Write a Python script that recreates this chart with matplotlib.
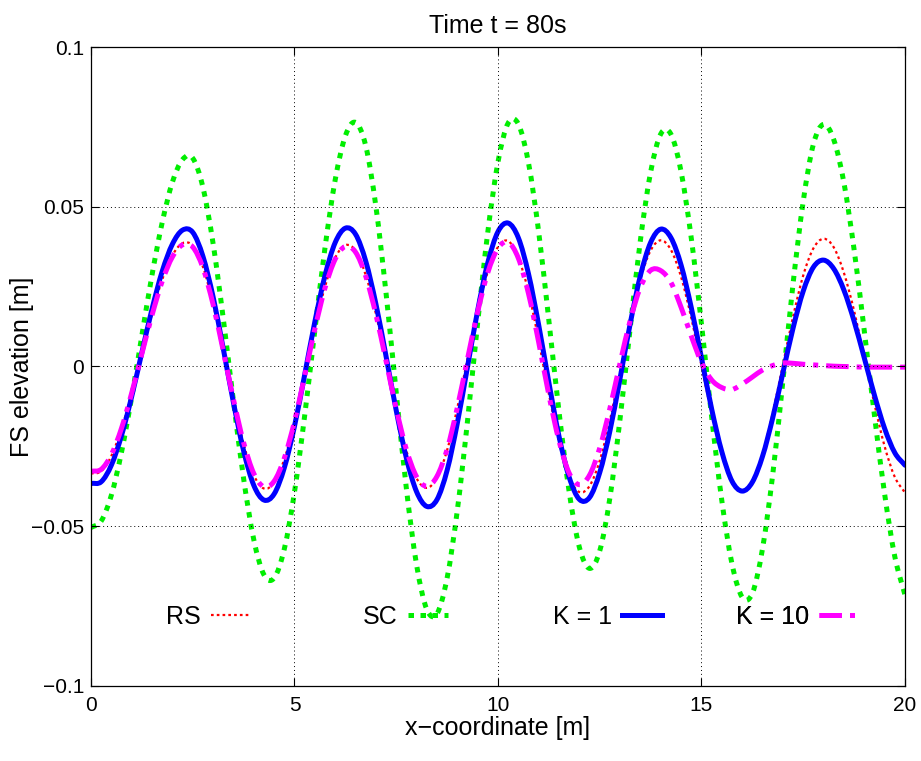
import numpy as np
import matplotlib
matplotlib.use("Agg")
import matplotlib.pyplot as plt
from matplotlib.lines import Line2D
from matplotlib.path import Path
from matplotlib.patches import PathPatch

# free-surface elevation at t = 80 s, read every 0.25 m along the channel
x_coord = np.linspace(0, 20, 81)

rs = [-0.0335, -0.0328, -0.0280, -0.0195, -0.0083, 0.0042, 0.0165, 0.0272, 0.0348, 0.0386,
      0.0378, 0.0312, 0.0196, 0.0049, -0.0105, -0.0242, -0.0340, -0.0382, -0.0363, -0.0290,
      -0.0173, -0.0028, 0.0119, 0.0250, 0.0340, 0.0380, 0.0362, 0.0286, 0.0165, 0.0017,
      -0.0134, -0.0264, -0.0350, -0.0380, -0.0348, -0.0262, -0.0130, 0.0024, 0.0173, 0.0297,
      0.0374, 0.0393, 0.0341, 0.0233, 0.0081, -0.0086, -0.0236, -0.0346, -0.0393, -0.0374,
      -0.0295, -0.0169, -0.0016, 0.0140, 0.0274, 0.0363, 0.0395, 0.0365, 0.0280, 0.0152,
      0.0003, -0.0147, -0.0275, -0.0360, -0.0390, -0.0360, -0.0275, -0.0146, 0.0005, 0.0156,
      0.0285, 0.0370, 0.0400, 0.0373, 0.0293, 0.0174, 0.0030, -0.0118, -0.0250, -0.0346,
      -0.0395]

sc = [-0.0504, -0.0484, -0.0403, -0.0268, -0.0096, 0.0097, 0.0287, 0.0451, 0.0577, 0.0648,
      0.0652, 0.0561, 0.0385, 0.0150, -0.0108, -0.0351, -0.0542, -0.0652, -0.0662, -0.0571,
      -0.0393, -0.0154, 0.0113, 0.0372, 0.0584, 0.0722, 0.0764, 0.0691, 0.0501, 0.0229,
      -0.0082, -0.0383, -0.0621, -0.0760, -0.0774, -0.0662, -0.0451, -0.0172, 0.0136, 0.0421,
      0.0640, 0.0762, 0.0759, 0.0637, 0.0421, 0.0144, -0.0142, -0.0393, -0.0566, -0.0632,
      -0.0577, -0.0411, -0.0163, 0.0122, 0.0396, 0.0608, 0.0728, 0.0727, 0.0609, 0.0401,
      0.0133, -0.0158, -0.0420, -0.0618, -0.0722, -0.0710, -0.0570, -0.0339, -0.0046, 0.0259,
      0.0517, 0.0696, 0.0758, 0.0710, 0.0575, 0.0366, 0.0112, -0.0153, -0.0399, -0.0595,
      -0.0715]

k1 = [-0.0366, -0.0361, -0.0309, -0.0216, -0.0094, 0.0044, 0.0180, 0.0298, 0.0383, 0.0427,
      0.0420, 0.0345, 0.0218, 0.0056, -0.0113, -0.0264, -0.0372, -0.0418, -0.0399, -0.0317,
      -0.0187, -0.0026, 0.0140, 0.0285, 0.0388, 0.0433, 0.0414, 0.0330, 0.0196, 0.0032,
      -0.0138, -0.0287, -0.0392, -0.0438, -0.0417, -0.0325, -0.0178, -0.0002, 0.0175, 0.0325,
      0.0422, 0.0449, 0.0403, 0.0290, 0.0130, -0.0050, -0.0219, -0.0347, -0.0416, -0.0410,
      -0.0332, -0.0202, -0.0037, 0.0135, 0.0285, 0.0388, 0.0430, 0.0403, 0.0317, 0.0184,
      0.0027, -0.0133, -0.0267, -0.0359, -0.0390, -0.0362, -0.0281, -0.0161, -0.0020, 0.0120,
      0.0236, 0.0311, 0.0333, 0.0306, 0.0239, 0.0142, 0.0027, -0.0090, -0.0194, -0.0270,
      -0.0309]

k10 = [-0.0328, -0.0322, -0.0276, -0.0193, -0.0083, 0.0040, 0.0161, 0.0267, 0.0343, 0.0381,
       0.0374, 0.0309, 0.0194, 0.0049, -0.0103, -0.0238, -0.0335, -0.0377, -0.0359, -0.0287,
       -0.0172, -0.0029, 0.0117, 0.0246, 0.0336, 0.0376, 0.0358, 0.0283, 0.0163, 0.0017,
       -0.0132, -0.0260, -0.0345, -0.0375, -0.0344, -0.0259, -0.0129, 0.0023, 0.0171, 0.0294,
       0.0370, 0.0389, 0.0339, 0.0228, 0.0076, -0.0089, -0.0233, -0.0334, -0.0370, -0.0340,
       -0.0255, -0.0131, 0.0011, 0.0145, 0.0248, 0.0301, 0.0300, 0.0263, 0.0185, 0.0095,
       0.0012, -0.0042, -0.0066, -0.0072, -0.0055, -0.0033, -0.0011, 0.0003, 0.0011, 0.0010,
       0.0007, 0.0005, 0.0003, 0.0001, 0.0000, -0.0001, -0.0002, -0.0002, -0.0002, -0.0002,
       -0.0002]

series_labels = ["RS", "SC", "K = 1", "K = 10"]
x_ticks = [0, 5, 10, 15, 20]
y_ticks = [-0.1, -0.05, 0, 0.05, 0.1]
y_tick_labels = ["\u22120.1", "\u22120.05", "0", "0.05", "0.1"]

plt.rcParams["font.family"] = ["Liberation Sans", "DejaVu Sans"]


def smooth_curve(ax, xs, ys, **kw):
    # draws the read points joined by a smooth bezier (catmull-rom style)
    pts = np.column_stack([np.asarray(xs, float), np.asarray(ys, float)])
    tang = np.empty_like(pts)
    tang[1:-1] = (pts[2:] - pts[:-2]) / 2
    tang[0] = pts[1] - pts[0]
    tang[-1] = pts[-1] - pts[-2]
    verts = [pts[0]]
    codes = [Path.MOVETO]
    for i in range(len(pts) - 1):
        verts += [pts[i] + tang[i] / 3, pts[i + 1] - tang[i + 1] / 3, pts[i + 1]]
        codes += [Path.CURVE4] * 3
    patch = PathPatch(Path(verts, codes), fill=False, joinstyle="round", **kw)
    ax.add_patch(patch)
    return patch


fig = plt.figure(figsize=(9.21, 7.61), dpi=100)
ax = fig.add_axes([0.0988, 0.0986, 0.8838, 0.8396])

styles = [
    dict(color="#ff0000", lw=1.6, ls=(0, (1.2, 1.4)), cap="butt"),
    dict(color="#00ee00", lw=3.6, ls=(0, (1.1, 1.3)), cap="butt"),
    dict(color="#0000ff", lw=3.6, ls="-", cap="round"),
    dict(color="#ff00ff", lw=3.6, ls=(0, (4.5, 1.6, 1.0, 1.6)), cap="butt"),
]

handles = []
for ys, st in zip([rs, sc, k1, k10], styles):
    smooth_curve(ax, x_coord, ys, edgecolor=st["color"], linewidth=st["lw"],
                 linestyle=st["ls"], capstyle=st["cap"])
    handles.append(Line2D([], [], color=st["color"], lw=st["lw"], linestyle=st["ls"],
                          dash_capstyle=st["cap"]))

ax.set_xlim(0, 20)
ax.set_ylim(-0.1, 0.1)
ax.set_xticks(x_ticks)
ax.set_yticks(y_ticks)
ax.set_yticklabels(y_tick_labels)
ax.tick_params(direction="in", length=6, width=0.8, top=True, right=True, labelsize=15)
ax.tick_params(axis="x", pad=7)
ax.tick_params(axis="y", pad=5)
ax.grid(True, color="black", linestyle=(0, (1, 3)), linewidth=0.7)
for s in ax.spines.values():
    s.set_linewidth(0.9)

ax.set_title("Time t = 80s", fontsize=18, pad=10)
ax.set_xlabel("x\u2212coordinate [m]", fontsize=18, labelpad=1)
ax.set_ylabel("FS elevation [m]", fontsize=18, labelpad=-2)

# one small legend per curve, text first, spread across the lower part
leg_x = [0.092, 0.334, 0.568, 0.792]
for h, lab, lx in zip(handles, series_labels, leg_x):
    leg = ax.legend([h], [lab], loc="center left", bbox_to_anchor=(lx, 0.108),
                    frameon=False, markerfirst=False, borderpad=0, borderaxespad=0,
                    handlelength=1.6, handletextpad=0.4, fontsize=18)
    ax.add_artist(leg)

fig.savefig("out.png", dpi=100)
